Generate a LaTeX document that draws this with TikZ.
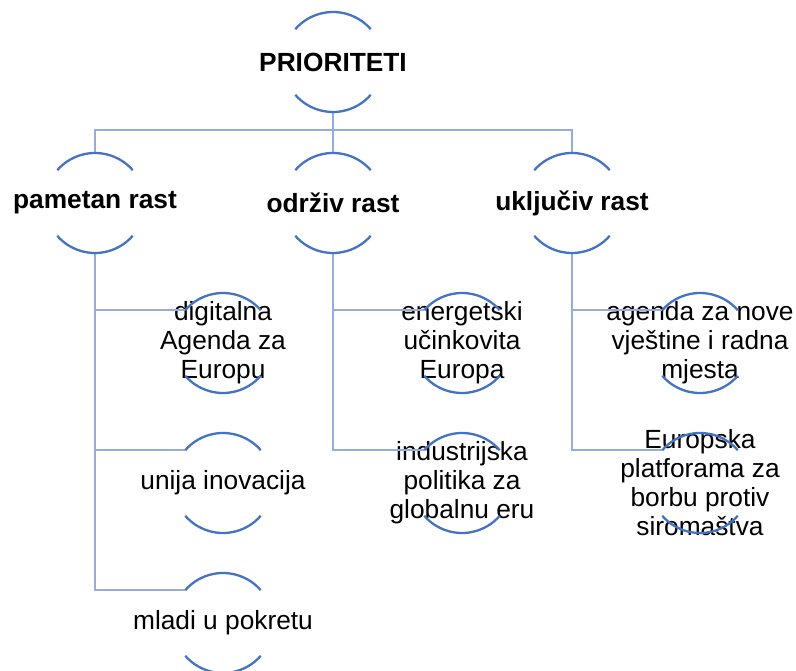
\documentclass[tikz,border=0pt]{standalone}
\usepackage{fontspec}
\setmainfont{Liberation Sans}
\definecolor{arcblue}{RGB}{68,114,196}
\definecolor{linkblue}{RGB}{150,172,222}

\begin{document}
\begin{tikzpicture}[
    x=1pt, y=1pt,
    arc-node/.style={circle, minimum size=100, inner sep=0, outer sep=0},
    arc-line/.style={draw=arcblue, line width=2.3},
    link/.style={draw=linkblue, line width=2.6},
    every label/.style={align=center, font=\fontsize{26.3}{29}\selectfont}
  ]
  \useasboundingbox (0,0) rectangle (796,-671);

  % top and second level
  \node[arc-node, label={center:\textbf{PRIORITETI}}] (prio) at (333,-62) {};
  \node[arc-node, label={center:\textbf{pametan rast}}] (pametan) at (95,-203) {};
  \node[arc-node, label={center:\textbf{održiv rast}}] (odrziv) at (333,-203) {};
  \node[arc-node, label={center:\textbf{uključiv rast}}] (ukljuciv) at (572,-203) {};

  % children
  \node[arc-node, label={center:{digitalna\\Agenda za\\Europu}}] (digital) at (223,-343) {};
  \node[arc-node, label={center:unija inovacija}] (inovacije) at (223,-483) {};
  \node[arc-node, label={center:mladi u pokretu}] (mladi) at (223,-623) {};
  \node[arc-node, label={center:{energetski\\učinkovita\\Europa}}] (energija) at (462,-343) {};
  \node[arc-node, label={center:{industrijska\\politika za\\globalnu eru}}] (industrija) at (462,-483) {};
  \node[arc-node, label={center:{agenda za nove\\vještine i radna\\mjesta}}] (vjestine) at (700,-343) {};
  \node[arc-node, label={center:{Europska\\platforama za\\borbu protiv\\siromaštva}}] (siromastvo) at (700,-483) {};

  \coordinate (bus) at (0,-130);

  \draw[link] (pametan.north) -- (pametan.north |- bus) -- (ukljuciv.north |- bus) -- (ukljuciv.north);
  \draw[link] (prio.south) -- (odrziv.north);

  \foreach \c in {digital,inovacije,mladi} {
      \draw[link] (pametan.south) |- (\c.139);
    }
  \foreach \c in {energija,industrija} {
      \draw[link] (odrziv.south) |- (\c.139);
    }
  \foreach \c in {vjestine,siromastvo} {
      \draw[link] (ukljuciv.south) |- (\c.139);
    }

  \foreach \n in {prio,pametan,odrziv,ukljuciv,digital,inovacije,mladi,energija,industrija,vjestine,siromastvo} {
      \draw[arc-line] (\n.41) arc[start angle=41, end angle=139, radius=50];
      \draw[arc-line] (\n.221) arc[start angle=221, end angle=319, radius=50];
    }

\end{tikzpicture}
\end{document}
